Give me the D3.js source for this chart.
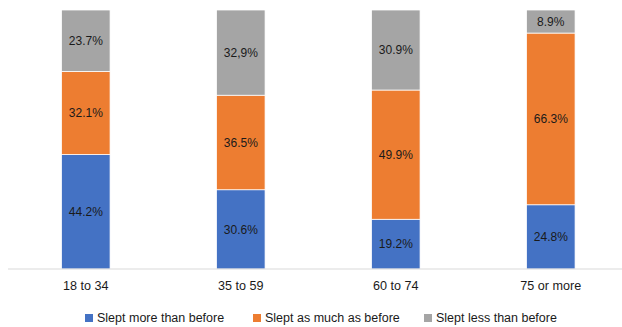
<!DOCTYPE html>
<html>
<head>
<meta charset="utf-8">
<script src="https://cdn.jsdelivr.net/npm/d3@7"></script>
<style>
  html, body { margin: 0; padding: 0; background: #fff; }
  svg { display: block; font-family: "Liberation Sans", "DejaVu Sans", sans-serif; }
</style>
</head>
<body>
<svg id="chart" width="622" height="327"></svg>
<script>
// Age groups and the share of people in each sleep-change group (percent)
const categories = ["18 to 34", "35 to 59", "60 to 74", "75 or more"];
const seriesNames = ["Slept more than before", "Slept as much as before", "Slept less than before"];
const sleptMore = [44.2, 30.6, 19.2, 24.8];
const sleptSame = [32.1, 36.5, 49.9, 66.3];
const sleptLess = [23.7, 32.9, 30.9, 8.9];
const labelsMore = ["44.2%", "30.6%", "19.2%", "24.8%"];
const labelsSame = ["32.1%", "36.5%", "49.9%", "66.3%"];
const labelsLess = ["23.7%", "32,9%", "30.9%", "8.9%"];
const colors = ["#4472C4", "#ED7D31", "#A5A5A5"];

const rows = categories.map((c, i) => ({
  cat: c,
  more: sleptMore[i], same: sleptSame[i], less: sleptLess[i],
  labels: [labelsMore[i], labelsSame[i], labelsLess[i]]
}));
const keys = ["more", "same", "less"];

const svg = d3.select("#chart");
const x = d3.scaleBand().domain(categories).range([8.3, 628.3]).padding(0);
const barW = x.bandwidth() * 0.313;
const y = d3.scaleLinear().domain([0, 100]).range([269, 10]);

const stack = d3.stack().keys(keys)(rows);

// stacked bars
const layers = svg.append("g").selectAll("g").data(stack).join("g")
  .attr("fill", (d, i) => colors[i]);

layers.selectAll("rect").data(d => d).join("rect")
  .attr("x", d => x(d.data.cat) + (x.bandwidth() - barW) / 2)
  .attr("width", barW)
  .attr("y", d => y(d[1]))
  .attr("height", d => y(d[0]) - y(d[1]))
  .attr("stroke", "#fff")
  .attr("stroke-width", 0.75);

// value labels centred in each segment
stack.forEach((layer, li) => {
  svg.append("g").selectAll("text").data(layer).join("text")
    .attr("x", d => x(d.data.cat) + x.bandwidth() / 2)
    .attr("y", d => y((d[0] + d[1]) / 2))
    .attr("dy", "0.35em")
    .attr("text-anchor", "middle")
    .attr("font-size", 12)
    .attr("fill", "#1a1a1a")
    .text(d => d.data.labels[li]);
});

// category axis
const axis = svg.append("g").attr("transform", `translate(0,${y(0)})`)
  .call(d3.axisBottom(x).tickSize(0).tickPadding(12));
axis.select(".domain").attr("stroke", "#D9D9D9").attr("d", "M8,0H622");
axis.selectAll("text").attr("font-size", 12.6).attr("fill", "#1a1a1a")
  .attr("font-family", "Liberation Sans, sans-serif");

// legend
const legendX = [85, 253, 424];
const legend = svg.append("g").selectAll("g").data(seriesNames).join("g")
  .attr("transform", (d, i) => `translate(${legendX[i]},318)`);
legend.append("rect").attr("x", 0).attr("y", -4).attr("width", 8).attr("height", 8)
  .attr("fill", (d, i) => colors[i]);
legend.append("text").attr("x", 12).attr("dy", "0.35em")
  .attr("font-size", 12.5).attr("fill", "#1a1a1a").text(d => d);
</script>
</body>
</html>
